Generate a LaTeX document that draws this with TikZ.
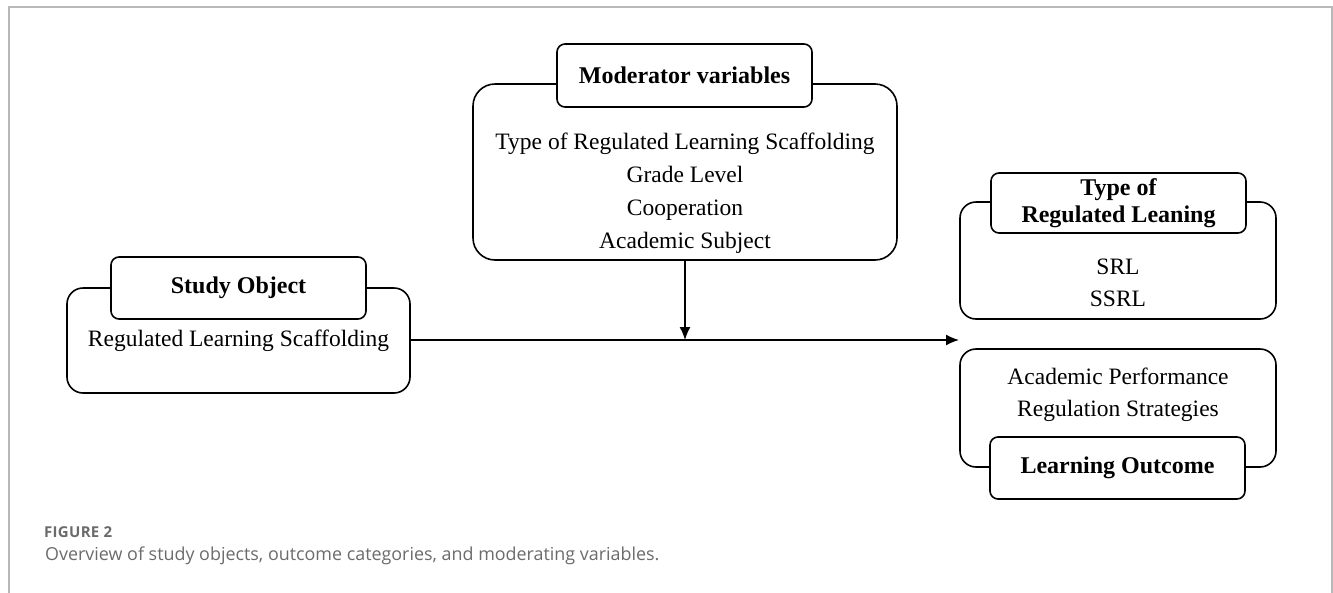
\documentclass[tikz,border=0pt]{standalone}
\usepackage{fontspec}
\usetikzlibrary{arrows.meta}
\setmainfont{Liberation Serif}
\newfontfamily\capfont{Open Sans}
\newfontfamily\capfontsp[LetterSpace=2]{Open Sans}
\begin{document}
\begin{tikzpicture}[x=1pt,y=-1pt,
  outerbox/.style={draw=black, line width=1.6pt, rounded corners=16pt, minimum width=#1},
  tabbox/.style={draw=black, fill=white, line width=1.6pt, rounded corners=8pt, minimum width=255pt, font=\fontsize{24}{27}\selectfont\bfseries, align=center, inner sep=0pt},
  bodytext/.style={font=\fontsize{23.5}{33}\selectfont, align=center, inner sep=0pt},
  conn/.style={line width=1.5pt, -{Latex[length=13pt,width=11pt]}},
  framecol/.style={draw=black!28, line width=1.2pt}
]
\useasboundingbox (0,0) rectangle (1333,592);
\draw[framecol] (9,600) -- (9,7) -- (1332,7) -- (1332,600);

% Study object
\node[outerbox=343pt, minimum height=105pt] (so) at (238.5,340.5) {};
\node[tabbox, minimum height=62pt] (sotab) at (238.5,288) {Study Object};
\node[bodytext] (sotext) at (238.5,341) {Regulated Learning Scaffolding};

% Moderator
\node[outerbox=424pt, minimum height=176pt, rounded corners=22pt] (mod) at (685,172) {};
\node[tabbox, minimum height=63pt] (modtab) at (684.5,75.5) {Moderator variables};
\node[bodytext] (modtext) at (685,193) {Type of Regulated Learning Scaffolding\\Grade Level\\Cooperation\\Academic Subject};

% Type of regulated learning
\node[outerbox=316pt, minimum height=117pt] (trl) at (1118,260.5) {};
\node[tabbox, minimum height=60pt] (trltab) at (1118.5,203) {Type of\\Regulated Leaning};
\node[bodytext, font=\fontsize{23.5}{32}\selectfont] (trltext) at (1118,283) {SRL\\SSRL};

% Learning outcome
\node[outerbox=316pt, minimum height=118pt] (lo) at (1118,408) {};
\node[tabbox, minimum height=62pt] (lotab) at (1117.5,468) {Learning Outcome};
\node[bodytext, font=\fontsize{23.5}{32}\selectfont] (lotext) at (1118,395) {Academic Performance\\Regulation Strategies};

% connectors
\coordinate (tip) at (959,340);
\coordinate (meet) at (685,340);
\draw[conn] (so.east |- meet) -- (tip);
\draw[conn] (mod.south) -- (meet);

% caption
\node[anchor=west, inner sep=0pt, text=black!58, font=\capfontsp\fontsize{15}{16}\selectfont\bfseries] (capa) at (44,532) {FIGURE 2};
\node[anchor=west, inner sep=0pt, text=black!58, font=\capfont\fontsize{17.9}{20}\selectfont] (capb) at (45,556) {Overview of study objects, outcome categories, and moderating variables.};
\end{tikzpicture}
\end{document}
